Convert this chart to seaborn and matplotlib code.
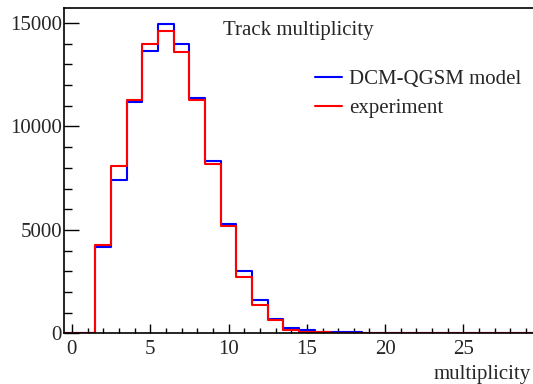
import numpy as np
import pandas as pd
import seaborn as sns
import matplotlib
matplotlib.use("Agg")
import matplotlib.pyplot as plt
from matplotlib.ticker import MultipleLocator

# Data: multiplicity bins (integers 0..29)
multiplicity = list(range(30))
model_counts = [0, 0, 4150, 7400, 11190, 13660, 14980, 14000, 11400, 8320,
                5270, 3020, 1600, 710, 240, 160, 80, 40, 60, 0,
                0, 0, 0, 0, 0, 0, 0, 0, 0, 0]
exp_counts = [0, 0, 4250, 8080, 11300, 13980, 14630, 13580, 11300, 8180,
              5180, 2720, 1390, 660, 160, 80, 40, 25, 15, 0,
              0, 0, 0, 0, 0, 0, 0, 0, 0, 0]
series_labels = ["DCM-QGSM model", "experiment"]
title_text = "Track multiplicity"
xlabel_text = "multiplicity"

df = pd.DataFrame({
    "multiplicity": [float(m) for m in multiplicity] * 2,
    "count": [float(c) for c in model_counts + exp_counts],
    "series": [series_labels[0]] * len(multiplicity) + [series_labels[1]] * len(multiplicity),
})

sns.set_style("ticks")
plt.rcParams["font.family"] = ["Liberation Serif", "DejaVu Serif"]

FS = 15

fig = plt.figure(figsize=(5.33, 3.84), dpi=100)
ax = fig.add_axes([64 / 533, 1 - 333.3 / 384, 470 / 533, (333.3 - 8) / 384])

colors = {series_labels[0]: "#0000ff", series_labels[1]: "#ff0000"}
for s in series_labels:
    sub = df[df["series"] == s].reset_index(drop=True)
    sns.histplot(data=sub, x="multiplicity", weights="count",
                 binwidth=1.0, binrange=(-0.5, 29.5),
                 element="step", fill=False, color=colors[s], linewidth=1.5,
                 ax=ax, label=s)

ax.set_xlim(-0.5, 29.5)
ax.set_ylim(0, 15730)
ax.set_xlabel("")
ax.set_ylabel("")

ax.xaxis.set_major_locator(MultipleLocator(5))
ax.xaxis.set_minor_locator(MultipleLocator(1))
ax.yaxis.set_major_locator(MultipleLocator(5000))
ax.yaxis.set_minor_locator(MultipleLocator(1000))
ax.tick_params(axis="both", which="both", direction="in", labelsize=FS,
               color="black", width=1.0)
ax.tick_params(axis="y", which="major", length=10.8, pad=1.5)
ax.tick_params(axis="y", which="minor", length=5.6)
ax.tick_params(axis="x", which="major", length=6.5, pad=5)
ax.tick_params(axis="x", which="minor", length=3.4)
ax.tick_params(top=False, right=False, which="both")

for side in ["left", "bottom", "top"]:
    ax.spines[side].set_visible(True)
    ax.spines[side].set_linewidth(1.2)
    ax.spines[side].set_color("black")
ax.spines["right"].set_visible(False)

ax.text(0.499, 0.932, title_text, transform=ax.transAxes, ha="center", va="center",
        fontsize=FS)
fig.text(531 / 533, 1 - 374 / 384, xlabel_text, ha="right", va="center", fontsize=FS)

leg = ax.legend(loc="upper left", bbox_to_anchor=(0.533, 0.81), frameon=False,
                fontsize=FS, handlelength=1.3, handletextpad=0.35,
                labelspacing=0.45, borderpad=0, borderaxespad=0)
for line in leg.get_lines():
    line.set_linewidth(1.5)

fig.savefig("out.png", dpi=100)
